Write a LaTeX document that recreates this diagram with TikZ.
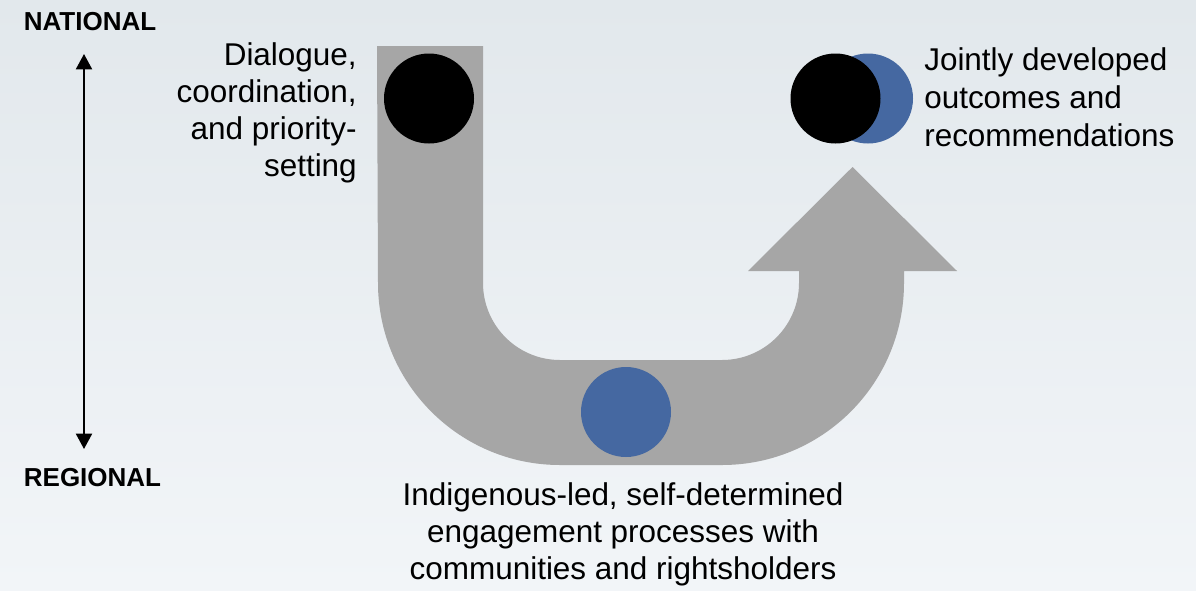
\documentclass[tikz,border=0pt]{standalone}
\usepackage{fontspec}
\setmainfont{Liberation Sans}
\usetikzlibrary{arrows.meta}

\begin{document}
\begin{tikzpicture}[
  x=0.75pt, y=-0.75pt, % one unit = one pixel, y grows downward
  line join=round,
  label text/.style={font=\fontsize{23.6}{27.75}\selectfont, inner sep=0pt},
  level text/.style={font=\fontsize{19.5}{23}\selectfont\bfseries, inner sep=0pt},
  dot/.style={circle, minimum size=67.5pt, inner sep=0pt}
]
  % ---- sizes ----
  \def\W{1196} % picture width
  \def\H{590}  % picture height
  \def\rin{77}   % inner bend radius
  \def\rout{182} % outer bend radius

  % Colors
  \definecolor{bgtop}{RGB}{226,232,236}
  \definecolor{bgbottom}{RGB}{242,245,248}
  \definecolor{band}{RGB}{166,166,166}
  \definecolor{dotblue}{RGB}{69,104,161}

  % ---- background ----
  \useasboundingbox (0,0) rectangle (\W,\H);
  \shade[top color=bgtop, bottom color=bgbottom] (0,0) rectangle (\W,\H);

  % ---- national / regional scale ----
  \node[level text, anchor=base] (national) at (90,30.5) {NATIONAL};
  \node[level text, anchor=base] (regional) at (92.5,486.5) {REGIONAL};
  \coordinate (upTip) at (84,54);
  \coordinate (downTip) at (84,449);
  \draw[{Triangle[length=11.5pt,width=12pt]}-{Triangle[length=11.5pt,width=12pt]}, line width=1.5pt]
    (upTip) -- (downTip);

  % ---- U-shaped arrow ----
  % left leg down, bend, bottom run, bend, right leg up into the head
  \fill[band]
    (377,46) -- (483,46) -- (483,283)
    arc[start angle=180, end angle=90, radius=\rin] -- (722,360)
    arc[start angle=90, end angle=0, radius=\rin] -- (799,271)
    -- (748,271) -- (852.5,167) -- (957,271) -- (904,271) -- (904,283)
    arc[start angle=0, end angle=90, radius=\rout] -- (560,465)
    arc[start angle=90, end angle=180, radius=\rout] -- cycle;

  % ---- dots ----
  \node[dot, fill=black] (start) at (429,98.5) {};
  \node[dot, fill=dotblue] (middle) at (626,412) {};
  \node[dot, fill=dotblue] (goalBack) at (868,98.5) {};
  \node[dot, fill=black] (goal) at (835.5,98.5) {};

  % ---- texts ----
  \node[label text, align=right, anchor=north east] (dialogue) at (357,42.5)
    {Dialogue,\\coordination,\\and priority-\\setting};
  \node[label text, align=center, anchor=north] (engagement) at (623,482.5)
    {Indigenous-led, self-determined\\engagement processes with\\communities and rightsholders};
  \node[label text, font=\fontsize{23.6}{28.5}\selectfont, align=left, anchor=north west] (outcomes) at (924,47.5)
    {Jointly developed\\outcomes and\\recommendations};

\end{tikzpicture}
\end{document}
